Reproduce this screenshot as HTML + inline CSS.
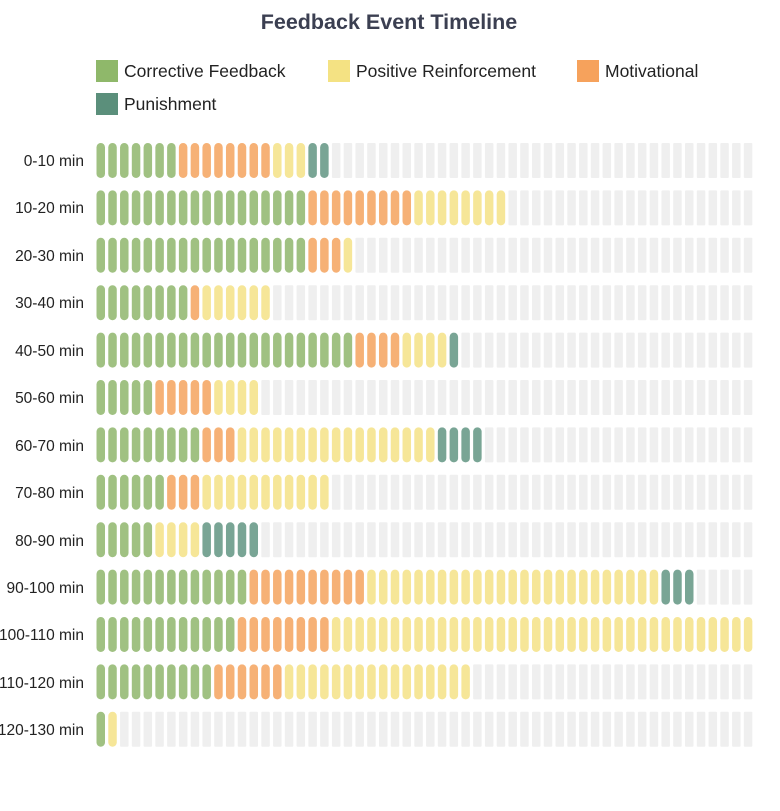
<!DOCTYPE html>
<html><head><meta charset="utf-8"><style>
body{margin:0;background:#fff;width:780px;height:806px;overflow:hidden;font-family:"Liberation Sans",sans-serif}
</style></head><body>
<svg id="s" width="780" height="806" xmlns="http://www.w3.org/2000/svg" font-family="Liberation Sans, sans-serif">
<text x="389" y="29" text-anchor="middle" font-size="21.5" font-weight="bold" fill="#3b3f51">Feedback Event Timeline</text>
<rect x="96" y="60" width="22" height="22" fill="#8fb86a"/><text x="124" y="77" font-size="17.5" fill="#222">Corrective Feedback</text>
<rect x="328" y="60" width="22" height="22" fill="#f4e283"/><text x="356" y="77" font-size="17.5" fill="#222">Positive Reinforcement</text>
<rect x="577" y="60" width="22" height="22" fill="#f6a25c"/><text x="605" y="77" font-size="17.5" fill="#222">Motivational</text>
<rect x="96" y="93" width="22" height="22" fill="#5b8f7b"/><text x="124" y="110" font-size="17.5" fill="#222">Punishment</text>
<g font-size="15.5" fill="#222" text-anchor="end">
<text x="84" y="166">0-10 min</text>
<text x="84" y="213">10-20 min</text>
<text x="84" y="261">20-30 min</text>
<text x="84" y="308">30-40 min</text>
<text x="84" y="356">40-50 min</text>
<text x="84" y="403">50-60 min</text>
<text x="84" y="451">60-70 min</text>
<text x="84" y="498">70-80 min</text>
<text x="84" y="546">80-90 min</text>
<text x="84" y="593">90-100 min</text>
<text x="84" y="640">100-110 min</text>
<text x="84" y="688">110-120 min</text>
<text x="84" y="735">120-130 min</text>
</g>
<g id="cells"></g>
</svg>
<script>
var rows=[[7,8,3,2],[18,9,8,0],[18,3,1,0],[8,1,6,0],[22,4,4,1],[5,5,4,0],[9,3,17,4],[6,3,11,0],[5,0,4,5],[13,10,25,3],[12,8,36,0],[10,6,16,0],[1,0,1,0]];
var cols=["#a0c182","#f6b176","#f6e698","#79a595"];
var g=document.getElementById("cells"),h="";
for(var r=0;r<rows.length;r++){
 var y=143+r*47.4,seq=[];
 for(var k=0;k<4;k++)for(var j=0;j<rows[r][k];j++)seq.push(k);
 for(var i=0;i<56;i++){
  var x=96.5+i*11.77;
  if(i<seq.length)h+='<rect x="'+x.toFixed(2)+'" y="'+y.toFixed(1)+'" width="8.5" height="35" rx="4.25" fill="'+cols[seq[i]]+'"/>';
  else h+='<rect x="'+x.toFixed(2)+'" y="'+y.toFixed(1)+'" width="8.5" height="35" rx="1" fill="#efefef"/>';
 }
}
g.innerHTML=h;
</script>
</body></html>
